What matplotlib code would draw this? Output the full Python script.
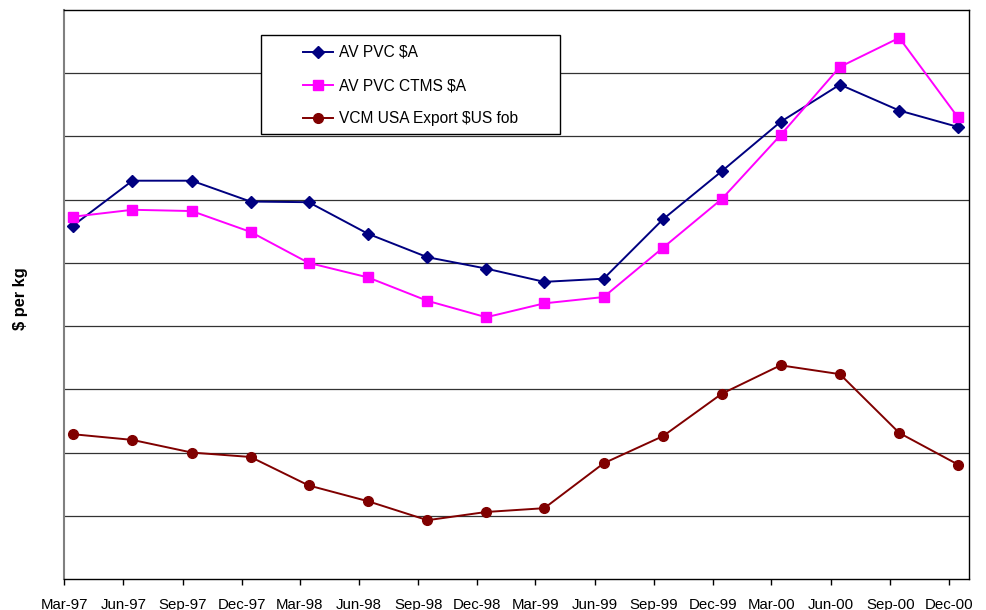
import pandas as pd
import matplotlib.pyplot as plt
import matplotlib.dates as mdates
from matplotlib.patches import Rectangle

plt.rcParams['font.family'] = ['Liberation Sans', 'DejaVu Sans']

# Quarterly prices
quarters = ["Mar-97", "Jun-97", "Sep-97", "Dec-97", "Mar-98", "Jun-98", "Sep-98", "Dec-98",
            "Mar-99", "Jun-99", "Sep-99", "Dec-99", "Mar-00", "Jun-00", "Sep-00", "Dec-00"]
av_pvc = [5.59, 6.30, 6.30, 5.97, 5.96, 5.46, 5.09, 4.91,
          4.70, 4.75, 5.69, 6.45, 7.23, 7.82, 7.41, 7.15]
av_pvc_ctms = [5.73, 5.84, 5.82, 5.49, 5.00, 4.77, 4.40, 4.14,
               4.36, 4.46, 5.24, 6.01, 7.02, 8.10, 8.56, 7.30]
vcm_usa = [2.29, 2.20, 2.00, 1.93, 1.48, 1.23, 0.93, 1.06,
           1.12, 1.83, 2.26, 2.93, 3.38, 3.24, 2.31, 1.81]

tick_dates = pd.to_datetime(quarters, format="%b-%y")
point_dates = tick_dates + pd.Timedelta(days=14)

fig = plt.figure(figsize=(9.86, 6.10), dpi=100)
ax = fig.add_axes([64 / 986, 1 - 579 / 610, 905 / 986, 569 / 610])

ax.plot(point_dates, av_pvc, color="#000080", marker="D", markersize=6, lw=1.4,
        label="AV PVC $A")
ax.plot(point_dates, av_pvc_ctms, color="#FF00FF", marker="s", markersize=7.5, lw=1.4,
        label="AV PVC CTMS $A")
ax.plot(point_dates, vcm_usa, color="#800000", marker="o", markersize=7, lw=1.4,
        label="VCM USA Export $US fob")

ax.set_xlim(pd.Timestamp("1997-03-01"), pd.Timestamp("2001-01-01"))
ax.set_ylim(0, 9)
ax.set_xticks(tick_dates)
ax.xaxis.set_major_formatter(mdates.DateFormatter("%b-%y"))
ax.tick_params(axis="x", direction="out", length=4, width=1, pad=9.5, labelsize=10.8)
ax.set_yticks(range(1, 9))
ax.tick_params(axis="y", length=0, labelleft=False)
ax.grid(axis="y", color="#333333", lw=0.9)
ax.set_axisbelow(True)

for side in ["top", "right", "bottom"]:
    ax.spines[side].set_color("black")
    ax.spines[side].set_linewidth(1.0)
ax.spines["left"].set_color("#808080")
ax.spines["left"].set_linewidth(1.5)

fig.text(20 / 986, 1 - 299 / 610, "$ per kg", rotation=90, fontsize=11.8,
         fontweight="bold", ha="center", va="center")

# legend box
fig.patches.append(Rectangle((261 / 986, 1 - 134 / 610), 299 / 986, 99 / 610,
                             transform=fig.transFigure, facecolor="white",
                             edgecolor="black", lw=1.0, zorder=5))
leg = fig.legend(loc="upper left", bbox_to_anchor=(303 / 986, 1 - 45 / 610),
                 frameon=False, fontsize=11.2, handlelength=1.9, handletextpad=0.4,
                 labelspacing=1.17, borderpad=0, borderaxespad=0)
leg.set_zorder(6)

plt.savefig("out.png", dpi=100)
